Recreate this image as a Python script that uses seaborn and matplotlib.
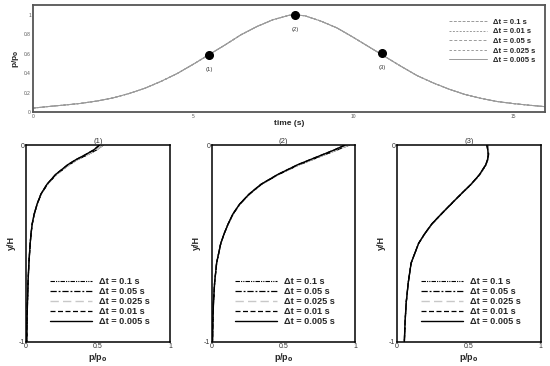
import matplotlib

matplotlib.use("Agg")
import matplotlib.pyplot as plt
import numpy as np
import pandas as pd
import seaborn as sns
from matplotlib.ticker import MultipleLocator

# --- top panel: pressure history p/p0 vs time ---
time_s = [0, 0.5, 1, 1.5, 2, 2.5, 3, 3.5, 4, 4.5, 5, 5.5, 6, 6.5, 7, 7.5, 8, 8.2,
          8.5, 9, 9.5, 10, 10.5, 11, 11.5, 12, 12.5, 13, 13.5, 14, 14.5, 15, 15.5, 16]
p_hist = [0.04, 0.057, 0.072, 0.089, 0.113, 0.145, 0.19, 0.245, 0.315, 0.395, 0.49,
          0.59, 0.69, 0.795, 0.88, 0.95, 0.995, 1.0, 0.99, 0.935, 0.865, 0.77, 0.67,
          0.57, 0.47, 0.375, 0.3, 0.235, 0.18, 0.14, 0.108, 0.087, 0.07, 0.055]
top_labels = ["\u0394t = 0.1 s", "\u0394t = 0.01 s", "\u0394t = 0.05 s",
              "\u0394t = 0.025 s", "\u0394t = 0.005 s"]

snap_t = [5.5, 8.2, 10.9]
snap_p = [0.59, 1.0, 0.61]
snap_names = ["(1)", "(2)", "(3)"]

# --- bottom panels: vertical profiles p/p0 vs y/H at the three instants ---
y_h = [0, -0.025, -0.05, -0.075, -0.1, -0.15, -0.2, -0.25, -0.3, -0.35, -0.4,
       -0.45, -0.5, -0.6, -0.7, -0.8, -0.9, -1.0]
prof1_coarse = [0.535, 0.49, 0.425, 0.355, 0.30, 0.21, 0.148, 0.105, 0.078, 0.058,
                0.044, 0.035, 0.029, 0.02, 0.014, 0.01, 0.007, 0.005]
prof1_fine = [0.51, 0.47, 0.41, 0.345, 0.29, 0.205, 0.145, 0.103, 0.077, 0.057,
              0.043, 0.035, 0.029, 0.02, 0.014, 0.01, 0.007, 0.005]
prof2_coarse = [0.96, 0.875, 0.785, 0.70, 0.61, 0.465, 0.347, 0.263, 0.197, 0.15,
                0.116, 0.087, 0.063, 0.034, 0.02, 0.012, 0.008, 0.005]
prof2_fine = [0.93, 0.855, 0.77, 0.685, 0.60, 0.46, 0.343, 0.26, 0.195, 0.148,
              0.115, 0.087, 0.063, 0.034, 0.02, 0.012, 0.008, 0.005]
prof3_coarse = [0.63, 0.636, 0.638, 0.632, 0.62, 0.577, 0.517, 0.447, 0.379, 0.312,
                0.247, 0.196, 0.152, 0.1, 0.08, 0.066, 0.058, 0.053]
prof3_fine = [0.625, 0.632, 0.635, 0.63, 0.618, 0.575, 0.515, 0.445, 0.377, 0.31,
              0.245, 0.195, 0.152, 0.1, 0.08, 0.066, 0.058, 0.053]

bottom_labels = ["\u0394t = 0.1 s", "\u0394t = 0.05 s", "\u0394t = 0.025 s",
                 "\u0394t = 0.01 s", "\u0394t = 0.005 s"]

sns.set_style("white")
plt.rcParams["font.family"] = ["Liberation Sans", "DejaVu Sans"]
plt.rcParams["xtick.direction"] = "in"
plt.rcParams["ytick.direction"] = "in"

fig = plt.figure(figsize=(5.5, 3.66), dpi=100)

# top panel
ax_top = fig.add_axes([0.06, 0.694, 0.931, 0.292])
hist = pd.DataFrame({"t": time_s, "p": p_hist})
top_styles = [(0, (3, 1.5)), (0, (2, 1.5)), (0, (3, 2)), (0, (2.5, 2)), "-"]
for lab, ls in zip(top_labels, top_styles):
    sns.lineplot(data=hist, x="t", y="p", ax=ax_top, color="#9a9a9a", lw=0.7,
                 linestyle=ls, label=lab, sort=False, estimator=None)
ax_top.plot(snap_t, snap_p, "o", color="black", ms=5.5, zorder=5)
for t, p, name in zip(snap_t, snap_p, snap_names):
    ax_top.text(t, p - 0.15, name, ha="center", va="center", fontsize=4.2,
                color="#333333")
ax_top.set_xlim(0, 16)
ax_top.set_ylim(0, 1.1)
ax_top.xaxis.set_major_locator(MultipleLocator(5))
ax_top.xaxis.set_minor_locator(MultipleLocator(1))
ax_top.set_yticks([0, 0.2, 0.4, 0.6, 0.8, 1.0])
ax_top.set_yticklabels(["0", "0.2", "0.4", "0.6", "0.8", "1"])
ax_top.tick_params(axis="both", which="major", labelsize=3.5, length=3,
                   width=0.5, colors="#555555", pad=1.5)
ax_top.tick_params(axis="both", which="minor", length=1.5, width=0.4,
                   colors="#555555")
ax_top.set_xlabel("time (s)", fontsize=6, fontweight="bold", labelpad=1)
ax_top.set_ylabel("p/p$_\\mathbf{0}$", fontsize=6, fontweight="bold", labelpad=2)
for sp in ax_top.spines.values():
    sp.set_color("#555555")
    sp.set_linewidth(1.3)
leg = ax_top.legend(loc="upper right", bbox_to_anchor=(0.99, 0.92), frameon=False,
                    fontsize=5.5, handlelength=5, labelspacing=0.3,
                    handletextpad=0.8, borderaxespad=0.2)
for txt in leg.get_texts():
    txt.set_fontweight("bold")

# bottom panels
bottom_styles = [
    ("black", (0, (4, 1, 1, 1, 1, 1)), 0.8),
    ("black", (0, (5, 1.5, 1.5, 1.5)), 0.9),
    ("#c8c8c8", (0, (6, 3)), 1.0),
    ("black", (0, (4, 2)), 0.9),
    ("black", "-", 1.0),
]
panels = [
    ("(1)", prof1_coarse, prof1_fine, 0.0473, 0.262),
    ("(2)", prof2_coarse, prof2_fine, 0.385, 0.2606),
    ("(3)", prof3_coarse, prof3_fine, 0.7213, 0.262),
]
for title, coarse, fine, left, width in panels:
    ax = fig.add_axes([left, 0.0664, width, 0.5374])
    for i, (lab, (col, ls, lw)) in enumerate(zip(bottom_labels, bottom_styles)):
        prof = pd.DataFrame({"p": coarse if i < 3 else fine, "y": y_h})
        sns.lineplot(data=prof, x="p", y="y", ax=ax, color=col, linestyle=ls,
                     lw=lw, label=lab, sort=False, estimator=None)
    ax.set_xlim(0, 1)
    ax.set_ylim(-1, 0)
    ax.set_xticks([0, 0.5, 1])
    ax.set_xticklabels(["0", "0.5", "1"])
    ax.xaxis.set_minor_locator(MultipleLocator(0.1))
    ax.set_yticks([-1, 0])
    ax.set_yticklabels(["-1", "0"])
    ax.tick_params(axis="both", which="major", labelsize=5, length=3,
                   width=0.6, colors="#333333", pad=1)
    ax.tick_params(axis="x", which="minor", length=1.5, width=0.4)
    ax.set_title(title, fontsize=5.5, pad=1.5, color="#333333")
    ax.set_xlabel("p/p$_\\mathbf{0}$", fontsize=6.5, fontweight="bold", labelpad=1)
    ax.set_ylabel("y/H", fontsize=6.5, fontweight="bold", labelpad=2)
    for sp in ax.spines.values():
        sp.set_color("black")
        sp.set_linewidth(1.1)
    leg = ax.legend(loc="lower right", bbox_to_anchor=(0.90, 0.05), frameon=False,
                    fontsize=6.6, handlelength=4.6, labelspacing=0.12,
                    handletextpad=0.8, borderaxespad=0.2)
    for txt in leg.get_texts():
        txt.set_fontweight("bold")

fig.savefig("out.png", dpi=100)
